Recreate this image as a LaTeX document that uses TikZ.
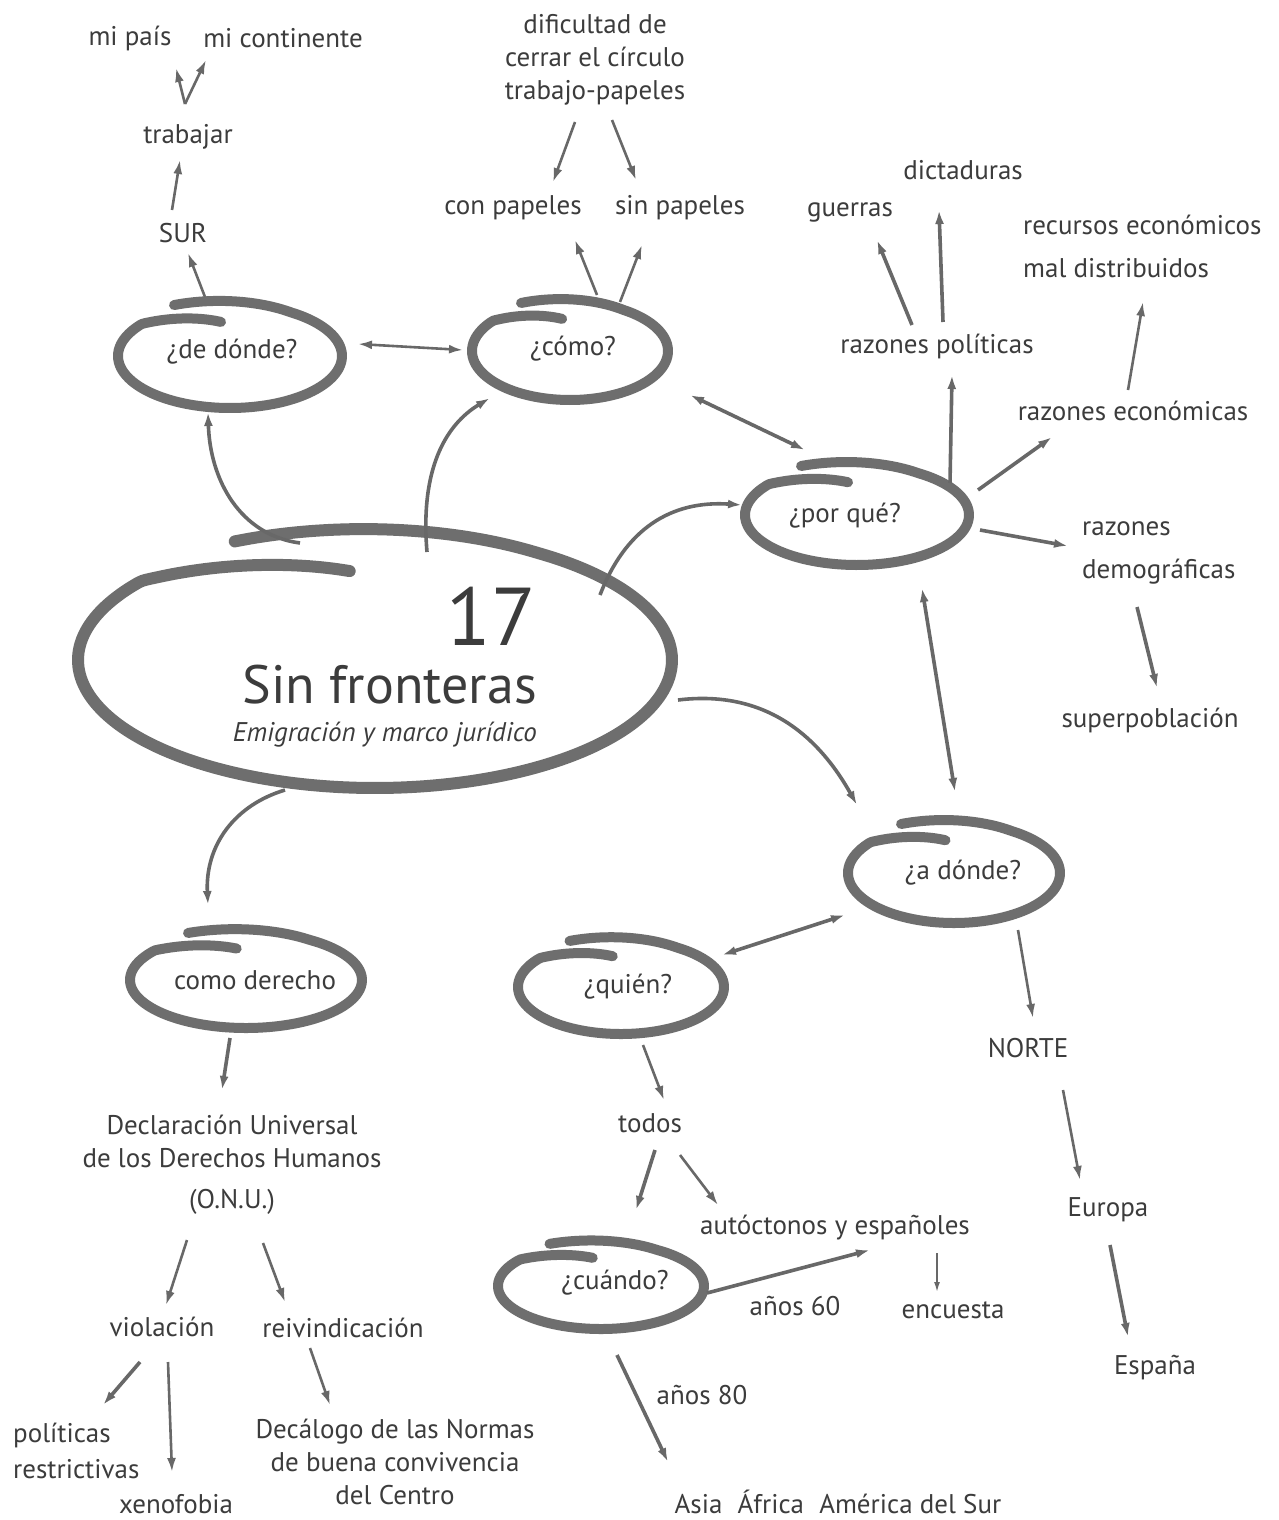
\documentclass[tikz,border=0pt]{standalone}
\usepackage{fontspec}
\setmainfont{PT Sans}
\usetikzlibrary{arrows.meta,calc}
\definecolor{ink}{HTML}{3C3C3C}
\definecolor{loopc}{HTML}{6E6E6E}
\definecolor{arrc}{HTML}{686868}
% #1 cx, #2 cy, #3 rx, #4 ry, #5 start factor, #6 end factor, #7 width
\newcommand\hbub[7]{%
  \draw[bub,line width=#7] plot[smooth,samples=120,domain=0:380,variable=\q]
   ({#1+#3*ff(\q,#5,#6)*cos(117-\q)},{#2-#4*ff(\q,#5,#6)*sin(117-\q)});}
\begin{document}
\begin{tikzpicture}[x=1pt,y=-1pt,
  declare function={ff(\x,\y,\z)=\y-(\y-1)*min(1,\x/60)-(1-\z)*max(0,(\x-335)/45);},
  txt/.style={font=\fontsize{27}{33}\selectfont,text=ink,inner sep=0pt,align=center},
  bub/.style={draw=loopc,line cap=round,line join=round},
  arr/.style={draw=arrc,line width=3.6pt,-{Latex[length=14pt,width=9pt]}},
  darr/.style={draw=arrc,line width=3.6pt,{Latex[length=14pt,width=9pt]}-{Latex[length=14pt,width=9pt]}},
  thin/.style={line width=2.6pt}]
\fill[white] (0,0) rectangle (1278,1520);
\useasboundingbox (0,0) rectangle (1278,1520);

% ---------- bubbles ----------
\hbub{375}{660}{297}{128}{1.04}{0.70}{12pt}
\hbub{230}{356}{112}{52}{1.10}{0.66}{10pt}
\hbub{570}{351}{98}{49}{1.10}{0.66}{10pt}
\hbub{857}{515}{112}{50}{1.10}{0.66}{10pt}
\hbub{954}{873}{106}{50}{1.10}{0.66}{10pt}
\hbub{621}{987}{103}{47}{1.10}{0.66}{10pt}
\hbub{601}{1286}{103}{43}{1.10}{0.66}{10pt}
\hbub{246}{980}{116}{48}{1.10}{0.66}{10pt}

% ---------- main title ----------
\coordinate (main) at (375,660);
\node[txt,anchor=base east,text depth=0pt,font=\fontsize{82}{82}\selectfont] (n17) at (536,645) {17};
\node[txt,anchor=base east,font=\fontsize{54}{54}\selectfont] (sinf) at (537,703) {Sin fronteras};
\node[txt,anchor=base east,font=\fontsize{27}{30}\selectfont\itshape] (emig) at (537,741) {Emigración y marco jurídico};

% ---------- text nodes ----------
\node[txt] (pais) at (130,38) {mi país};
\node[txt] (cont) at (283,38) {mi continente};
\node[txt] (trab) at (188,137) {trabajar};
\node[txt] (sur) at (183,233) {SUR};
\node[txt] (dif) at (595,60) {dificultad de\\cerrar el círculo\\trabajo-papeles};
\node[txt] (conp) at (513,208) {con papeles};
\node[txt] (sinp) at (680,208) {sin papeles};
\node[txt] (dedonde) at (232,352) {¿de dónde?};
\node[txt] (como) at (573,349) {¿cómo?};
\node[txt] (dict) at (963,170) {dictaduras};
\node[txt] (guer) at (850,212) {guerras};
\node[txt,anchor=west,align=left] (recur) at (1023,246) {recursos económicos\\[10pt]mal distribuidos};
\node[txt] (rpol) at (937,346) {razones políticas};
\node[txt] (reco) at (1133,411) {razones económicas};
\node[txt] (porque) at (845,516) {¿por qué?};
\node[txt,anchor=west,align=left] (rdem) at (1082,553) {razones\\[10pt]demográficas};
\node[txt] (superp) at (1150,720) {superpoblación};
\node[txt] (adonde) at (963,873) {¿a dónde?};
\node[txt] (norte) at (1028,1048) {NORTE};
\node[txt] (europa) at (1108,1210) {Europa};
\node[txt] (espana) at (1155,1368) {España};
\node[txt] (quien) at (628,987) {¿quién?};
\node[txt] (todos) at (650,1123) {todos};
\node[txt] (auto) at (835,1228) {autóctonos y españoles};
\node[txt] (cuando) at (615,1283) {¿cuándo?};
\node[txt] (a60) at (795,1306) {años 60};
\node[txt] (enc) at (953,1310) {encuesta};
\node[txt] (a80) at (702,1395) {años 80};
\node[txt] (asia) at (838,1502) {Asia\hspace{8pt} África\hspace{8pt} América del Sur};
\node[txt] (derecho) at (255,980) {como derecho};
\node[txt] (decl) at (232,1165) {Declaración Universal\\de los Derechos Humanos\\[8pt](O.N.U.)};
\node[txt] (viol) at (162,1327) {violación};
\node[txt] (reiv) at (343,1328) {reivindicación};
\node[txt,anchor=west,align=left] (polit) at (13,1451) {políticas\\[3pt]restrictivas};
\node[txt] (xeno) at (176,1504) {xenofobia};
\node[txt] (deca) at (395,1462) {Decálogo de las Normas\\de buena convivencia\\del Centro};

% ---------- connectors ----------
\draw[arr,thin] ([shift={(-3,-33)}]trab.center) -- ([shift={(46,30)}]pais.center);
\draw[arr,thin] ([shift={(-3,-33)}]trab.center) -- ([shift={(-77,22)}]cont.center);
\draw[arr,thin] ([shift={(-11,-23)}]sur.center) -- ([shift={(-8,23)}]trab.center);
\draw[arr,thin] ([shift={(-27,-55)}]dedonde.center) -- ([shift={(5,20)}]sur.center);
\draw[darr,thin] ([shift={(126,-8)}]dedonde.center) -- ([shift={(-110,1)}]como.center);
\draw[arr,thin] ([shift={(-20,62)}]dif.center) -- ([shift={(40,-26)}]conp.center);
\draw[arr,thin] ([shift={(17,60)}]dif.center) -- ([shift={(-44,-28)}]sinp.center);
\draw[arr,thin] ([shift={(24,-54)}]como.center) -- ([shift={(62,32)}]conp.center);
\draw[arr,thin] ([shift={(47,-47)}]como.center) -- ([shift={(-38,37)}]sinp.center);
\draw[darr] ([shift={(117,46)}]como.center) -- ([shift={(-40,-66)}]porque.center);
\draw[arr] ([shift={(-25,-21)}]rpol.center) -- ([shift={(27,28)}]guer.center);
\draw[arr] ([shift={(6,-24)}]rpol.center) -- ([shift={(-24,40)}]dict.center);
\draw[arr,thin] ([shift={(-5,-21)}]reco.center) -- ([shift={(120,56)}]recur.west);
\draw[arr] ([shift={(105,-33)}]porque.center) -- ([shift={(15,29)}]rpol.center);
\draw[arr] ([shift={(133,-26)}]porque.center) -- ([shift={(-81,26)}]reco.center);
\draw[arr] ([shift={(135,14)}]porque.center) -- ([shift={(-14,-7)}]rdem.west);
\draw[arr] ([shift={(55,54)}]rdem.west) -- ([shift={(7,-32)}]superp.center);
\draw[darr] ([shift={(77,72)}]porque.center) -- ([shift={(-8,-81)}]adonde.center);
\draw[darr] ([shift={(-118,42)}]adonde.center) -- ([shift={(94,-32)}]quien.center);
\draw[arr,thin] ([shift={(55,57)}]adonde.center) -- ([shift={(5,-30)}]norte.center);
\draw[arr,thin] ([shift={(35,42)}]norte.center) -- ([shift={(-28,-30)}]europa.center);
\draw[arr] ([shift={(2,35)}]europa.center) -- ([shift={(-27,-31)}]espana.center);
\draw[arr,thin] ([shift={(15,58)}]quien.center) -- ([shift={(14,-23)}]todos.center);
\draw[arr] ([shift={(5,27)}]todos.center) -- ([shift={(21,-73)}]cuando.center);
\draw[arr,thin] ([shift={(30,32)}]todos.center) -- ([shift={(-117,-23)}]auto.center);
\draw[arr] ([shift={(92,10)}]cuando.center) -- ([shift={(35,22)}]auto.center);
\draw[arr,line width=1.6pt,-{Latex[length=10pt,width=6pt]}] ([shift={(102,25)}]auto.center) -- ([shift={(-16,-18)}]enc.center);
\draw[arr] ([shift={(2,72)}]cuando.center) -- ([shift={(-170,-40)}]asia.center);
\draw[arr] ([shift={(-25,58)}]derecho.center) -- ([shift={(-10,-75)}]decl.center);
\draw[arr,thin] ([shift={(-45,75)}]decl.center) -- ([shift={(4,-22)}]viol.center);
\draw[arr,thin] ([shift={(31,78)}]decl.center) -- ([shift={(-58,-26)}]reiv.center);
\draw[arr] ([shift={(-22,35)}]viol.center) -- ([shift={(90,-46)}]polit.west);
\draw[arr,thin] ([shift={(6,35)}]viol.center) -- ([shift={(-4,-32)}]xeno.center);
\draw[arr,thin] ([shift={(-33,20)}]reiv.center) -- ([shift={(-65,-57)}]deca.center);

% curved connectors from the main bubble
\draw[arr] ([shift={(-75,-117)}]main) .. controls (240,535) and (210,480) .. ([shift={(-24,60)}]dedonde.center);
\draw[arr] ([shift={(52,-108)}]main) .. controls (420,470) and (445,425) .. ([shift={(-83,49)}]como.center);
\draw[arr] ([shift={(225,-65)}]main) .. controls (625,530) and (670,500) .. ([shift={(-103,-11)}]porque.center);
\draw[arr] ([shift={(303,40)}]main) .. controls (760,690) and (815,730) .. ([shift={(-106,-68)}]adonde.center);
\draw[arr] ([shift={(-90,130)}]main) .. controls (235,805) and (205,845) .. ([shift={(-47,-75)}]derecho.center);
\end{tikzpicture}
\end{document}
